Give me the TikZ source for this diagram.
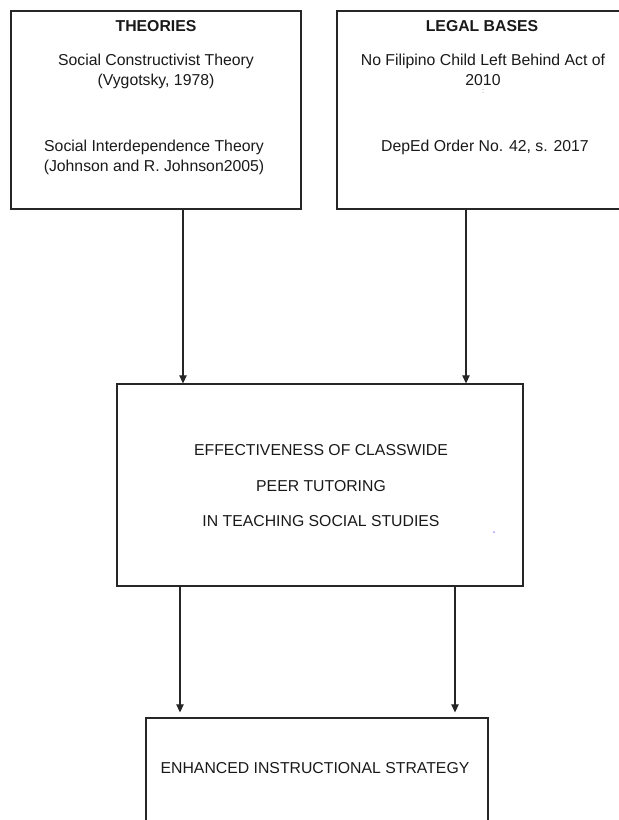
\documentclass[tikz,border=0pt]{standalone}
\usepackage{fontspec}
\setmainfont{Liberation Sans}
\usetikzlibrary{arrows.meta}
\begin{document}
\begin{tikzpicture}[x=1pt,y=-1pt,
  box/.style={draw=black!85, line width=1.3pt, inner sep=0pt},
  txt/.style={font=\fontsize{15.8}{20}\selectfont, text=black!90, align=center, inner sep=0pt},
  midtxt/.style={font=\fontsize{15.8}{35.5}\selectfont, text=black!90, align=center, inner sep=0pt},
  conn/.style={draw=black!85, line width=1.2pt, -{Triangle[length=8pt,width=7.5pt]}}]
\useasboundingbox (0,0) rectangle (619,820);
% boxes
\node[box, minimum width=290pt, minimum height=198pt] (th) at (156,110) {};
\node[box, minimum width=290pt, minimum height=198pt] (lb) at (482,110) {};
\node[box, minimum width=406pt, minimum height=202pt] (mid) at (320,485) {};
\node[box, minimum width=342pt, minimum height=118pt] (enh) at (317,777) {};
% texts
\node[txt, font=\fontsize{15.8}{20}\selectfont\bfseries] (thT) at (156,26) {THEORIES};
\node[txt] (th1) at (156,71) {Social Constructivist Theory\\(Vygotsky, 1978)};
\node[txt] (th2) at (154,157) {Social Interdependence Theory\\(Johnson and R. Johnson2005)};
\node[txt, font=\fontsize{15.8}{20}\selectfont\bfseries] (lbT) at (482,26) {LEGAL BASES};
\node[txt] (lb1) at (483,70) {No Filipino Child Left Behind Act of\\2010};
\node[txt, font=\fontsize{7}{7}\selectfont, text=black!60] (lbm) at (483,92) {:};
\node[txt] (lb2) at (485,147) {DepEd Order No. 42, s. 2017};
\node[midtxt] (midT) at (321,486) {EFFECTIVENESS OF CLASSWIDE\\PEER TUTORING\\IN TEACHING SOCIAL STUDIES};
\node[txt] (enhT) at (315,768) {ENHANCED INSTRUCTIONAL STRATEGY};
\fill[blue!40] (494,532) circle (1pt);
% connectors
\coordinate (a1) at ([xshift=27pt]th.south);
\coordinate (a2) at ([xshift=-16pt]lb.south);
\coordinate (b1) at ([xshift=-140pt]mid.south);
\coordinate (b2) at ([xshift=135pt]mid.south);
\draw[conn] (a1) -- (a1 |- mid.north);
\draw[conn] (a2) -- (a2 |- mid.north);
\draw[conn, shorten >=5pt] (b1) -- (b1 |- enh.north);
\draw[conn, shorten >=5pt] (b2) -- (b2 |- enh.north);
\end{tikzpicture}
\end{document}
